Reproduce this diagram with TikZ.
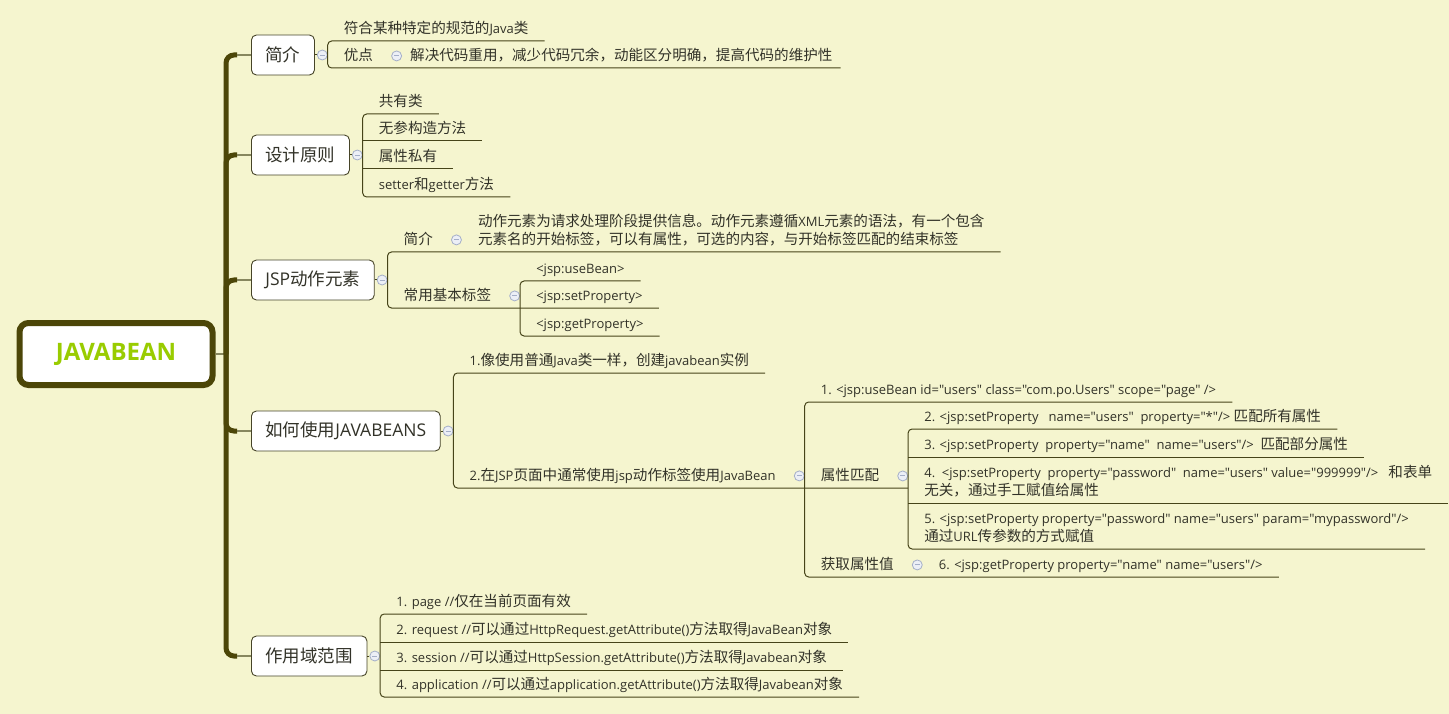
\documentclass[tikz,border=0pt]{standalone}
\usepackage{fontspec}
\setmainfont{Open Sans}[Ligatures=TeXOff]
\newfontfamily\cjkleaf{Noto Sans CJK SC}[Scale=1.12]
\newfontfamily\cjktopic{Noto Sans CJK SC}
\newfontfamily\rootfont{Open Sans}
\let\cjkfont\cjkleaf
% CJK runs switch to the CJK family
\XeTeXinterchartokenstate=1
\newXeTeXintercharclass\cjkcls
\count255="3000
\loop\ifnum\count255<"A000
  \XeTeXcharclass\count255=\cjkcls \advance\count255 by 1
\repeat
\count255="FF00
\loop\ifnum\count255<"FFF0
  \XeTeXcharclass\count255=\cjkcls \advance\count255 by 1
\repeat
\XeTeXinterchartoks 0 \cjkcls = {\begingroup\cjkfont}
\XeTeXinterchartoks 4095 \cjkcls = {\begingroup\cjkfont}
\XeTeXinterchartoks \cjkcls 0 = {\endgroup}
\XeTeXinterchartoks \cjkcls 4095 = {\endgroup}
\usetikzlibrary{positioning}
\definecolor{bgc}{RGB}{245,245,207}
\definecolor{trunkc}{RGB}{76,70,8}
\definecolor{stemc}{RGB}{135,135,95}
\definecolor{linec}{RGB}{70,68,25}
\definecolor{boxc}{RGB}{70,68,40}
\definecolor{txtc}{RGB}{50,50,40}
\definecolor{rootc}{RGB}{153,204,0}
\definecolor{foldc}{RGB}{165,175,200}
\definecolor{foldf}{RGB}{236,239,246}
\tikzset{
  root/.style  ={draw=trunkc, line width=6pt, fill=white, rounded corners=9pt,
                 minimum width=193pt, minimum height=62pt, text=rootc,
                 font=\rootfont\bfseries\fontsize{24}{28}\selectfont},
  topic/.style ={draw=boxc, line width=0.9pt, fill=white, rounded corners=5pt,
                 minimum height=40pt, inner xsep=14pt, anchor=west, text=txtc,
                 font=\let\cjkfont\cjktopic\fontsize{17.5}{22}\selectfont},
  leaf/.style  ={anchor=south west, inner xsep=16pt, inner ysep=4pt,
                 text depth=3.5pt, align=left, text=txtc,
                 font=\fontsize{13}{18}\selectfont},
  leafn/.style ={leaf, inner xsep=8pt},
  fold/.style  ={circle, draw=foldc, fill=foldf, line width=0.8pt,
                 minimum size=10pt, inner sep=0pt,
                 path picture={\draw[foldc, line width=0.9pt]
                   ([xshift=-2.5pt]path picture bounding box.center) --
                   ([xshift=2.5pt]path picture bounding box.center);}},
  trunk/.style ={draw=trunkc, line width=5pt, rounded corners=8pt},
  stem/.style  ={draw=stemc, line width=2.5pt},
  sub/.style   ={draw=linec, line width=1pt, rounded corners=4pt},
}
\begin{document}
\begin{tikzpicture}[x=1pt, y=-1pt]
\fill[bgc] (0,0) rectangle (1449,714);
\useasboundingbox (0,0) rectangle (1449,714);

% ---- root and main topics --------------------------------------------
\node[root] (root) at (116,354) {JAVABEAN};
\coordinate (tk) at (226,354);
\node[topic] (intro)  at (251,55)  {简介};
\node[topic] (design) at (251,155) {设计原则};
\node[topic] (jsp)    at (251,280) {JSP动作元素};
\node[topic] (usage)  at (251,431) {如何使用JAVABEANS};
\node[topic] (scope)  at (251,656) {作用域范围};

\draw[stem] (root) -- (tk);
\foreach \t in {intro,design,jsp,usage,scope}{
  \draw[trunk] (tk) |- ([xshift=-14pt]\t.west);
  \draw[stem] ([xshift=-14pt]\t.west) -- (\t.west);
}

% ---- intro -----------------------------------------------------------
\node[fold, right=2pt of intro] (fintro) {};
\node[leaf] (intro1) at (fintro.east |- 0,41) {符合某种特定的规范的Java类};
\node[leaf] (pros)   at (fintro.east |- 0,68) {优点};
\node[fold, right=2pt of pros] (fpros) {};
\node[leafn] (prosd) at (fpros.east |- 0,68) {解决代码重用，减少代码冗余，动能区分明确，提高代码的维护性};

\draw[sub] (intro) -- (fintro);
\draw[sub] (intro1.south east) -- (intro1.south west) -- (pros.south west) -- (pros.south east)
      -- (prosd.south west) -- (prosd.south east);

% ---- design ----------------------------------------------------------
\node[fold, right=2pt of design] (fdesign) {};
\node[leaf] (d1) at (fdesign.east |- 0,114) {共有类};
\node[leaf] (d2) at (fdesign.east |- 0,141) {无参构造方法};
\node[leaf] (d3) at (fdesign.east |- 0,169) {属性私有};
\node[leaf] (d4) at (fdesign.east |- 0,197) {setter和getter方法};

\draw[sub] (design) -- (fdesign);
\draw[sub] (d1.south east) -- (d1.south west) -- (d4.south west) -- (d4.south east);
\draw[sub] (d2.south west) -- (d2.south east);
\draw[sub] (d3.south west) -- (d3.south east);

% ---- jsp action elements ---------------------------------------------
\node[fold, right=2pt of jsp] (fjsp) {};
\node[leaf] (ja) at (fjsp.east |- 0,252) {简介};
\node[fold, right=2pt of ja] (fja) {};
\node[leaf] (jad) at (fja.east |- 0,252)
  {动作元素为请求处理阶段提供信息。动作元素遵循XML元素的语法，有一个包含\\元素名的开始标签，可以有属性，可选的内容，与开始标签匹配的结束标签};
\node[leaf] (tags) at (fjsp.east |- 0,308) {常用基本标签};
\node[fold, right=2pt of tags] (ftags) {};
\node[leaf] (tg1) at (ftags.east |- 0,281) {<jsp:useBean>};
\node[leaf] (tg2) at (ftags.east |- 0,308) {<jsp:setProperty>};
\node[leaf] (tg3) at (ftags.east |- 0,336) {<jsp:getProperty>};

\draw[sub] (jsp) -- (fjsp);
\draw[sub] (jad.south east) -- (jad.south west) -- (ja.south west) -- (tags.south west)
      -- (tags.south east) -- (tg2.south west) -- (tg2.south east);
\draw[sub] (tg1.south east) -- (tg1.south west) -- (tg3.south west) -- (tg3.south east);

% ---- usage -----------------------------------------------------------
\node[fold, right=2pt of usage] (fusage) {};
\node[leaf] (u1) at (fusage.east |- 0,373) {1.像使用普通Java类一样，创建javabean实例};
\node[leaf] (u2) at (fusage.east |- 0,488) {2.在JSP页面中通常使用jsp动作标签使用JavaBean};
\node[fold, right=2pt of u2] (fu2) {};
\node[leaf] (ub) at (fu2.east |- 0,402)
  {1. <jsp:useBean id="users" class="com.po.Users" scope="page" />};
\node[leaf] (match) at (fu2.east |- 0,488) {属性匹配};
\node[fold, right=2pt of match] (fmatch) {};
\node[leaf] (m2) at (fmatch.east |- 0,429)
  {2. <jsp:setProperty\ \ \ name="users"\ \ property="*"/> 匹配所有属性};
\node[leaf] (m3) at (fmatch.east |- 0,457)
  {3. <jsp:setProperty\ \ property="name"\ \ name="users"/>\ \ 匹配部分属性};
\node[leaf] (m4) at (fmatch.east |- 0,503)
  {4.\ \ <jsp:setProperty\ \ property="password"\ \ name="users" value="999999"/>\ \ \ 和表单\\无关，通过手工赋值给属性};
\node[leaf] (m5) at (fmatch.east |- 0,549)
  {5. <jsp:setProperty property="password" name="users" param="mypassword"/>\\通过URL传参数的方式赋值};
\node[leaf] (get) at (fu2.east |- 0,577) {获取属性值};
\node[fold, right=2pt of get] (fget) {};
\node[leaf] (getd) at (fget.east |- 0,577) {6. <jsp:getProperty property="name" name="users"/>};

\draw[sub] (usage) -- (fusage);
\draw[sub] (u1.south east) -- (u1.south west) -- (u2.south west) -- (u2.south east)
      -- (match.south west) -- (match.south east) -- (fmatch.east |- match.south);
\draw[sub] (ub.south east) -- (ub.south west) -- (get.south west) -- (get.south east)
      -- (getd.south west) -- (getd.south east);
\draw[sub] (m2.south east) -- (m2.south west) -- (m5.south west) -- (m5.south east);
\draw[sub] (m3.south west) -- (m3.south east);
\draw[sub] (m4.south west) -- (m4.south east);

% ---- scope -----------------------------------------------------------
\node[fold, right=2pt of scope] (fscope) {};
\node[leaf] (s1) at (fscope.east |- 0,614) {1. page //仅在当前页面有效};
\node[leaf] (s2) at (fscope.east |- 0,642) {2. request //可以通过HttpRequest.getAttribute()方法取得JavaBean对象};
\node[leaf] (s3) at (fscope.east |- 0,670) {3. session //可以通过HttpSession.getAttribute()方法取得Javabean对象};
\node[leaf] (s4) at (fscope.east |- 0,697) {4. application //可以通过application.getAttribute()方法取得Javabean对象};

\draw[sub] (scope) -- (fscope);
\draw[sub] (s1.south east) -- (s1.south west) -- (s4.south west) -- (s4.south east);
\draw[sub] (s2.south west) -- (s2.south east);
\draw[sub] (s3.south west) -- (s3.south east);

\end{tikzpicture}
\end{document}
